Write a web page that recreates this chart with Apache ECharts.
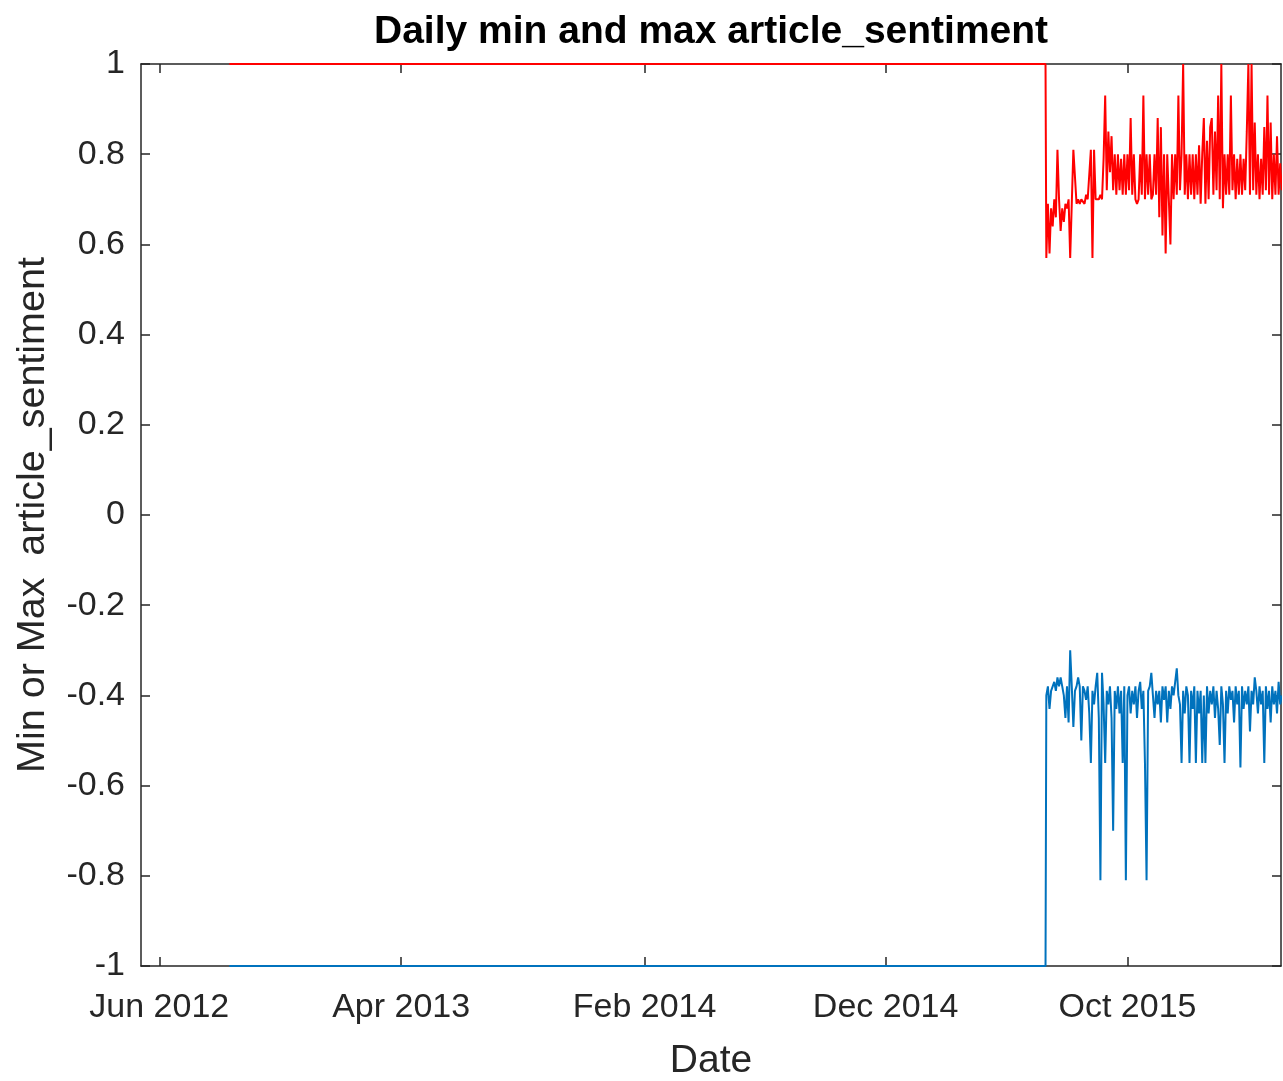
<!DOCTYPE html>
<html>
<head>
<meta charset="utf-8">
<script src="https://cdn.jsdelivr.net/npm/echarts@6/dist/echarts.min.js"></script>
<style>html,body{margin:0;padding:0;background:#fff}#c{width:1283px;height:1081px}</style>
</head>
<body>
<div id="c"></div>
<script>
// ---- data ----
const titleText = 'Daily min and max article_sentiment';
const xName = 'Date';
const yName = 'Min or Max  article_sentiment';
const xTickDates = ['2012-06-01', '2013-04-01', '2014-02-01', '2014-12-01', '2015-10-01'];
const xTickLabels = ['Jun 2012', 'Apr 2013', 'Feb 2014', 'Dec 2014', 'Oct 2015'];
const xRange = ['2012-05-09', '2016-04-11'];
// flat period (constant values) start and end dates
const flatDates = ['2012-08-28', '2015-06-20'];
const flatMax = [1, 1];
const flatMin = [-1, -1];
// noisy period: readings every 2 days starting from this date
const noisyStart = '2015-06-21';
const noisyStepDays = 2;
const maxValues = [
 0.57,0.69,0.58,0.68,0.64,0.70,0.66,0.81,0.70,0.63,
 0.68,0.65,0.69,0.68,0.70,0.57,0.69,0.81,0.81,0.69,
 0.70,0.69,0.70,0.70,0.69,0.71,0.70,0.70,0.81,0.57,
 0.81,0.70,0.70,0.70,0.71,0.70,0.79,0.93,0.72,0.85,
 0.76,0.84,0.72,0.80,0.71,0.80,0.72,0.79,0.71,0.80,
 0.71,0.80,0.72,0.88,0.71,0.80,0.70,0.69,0.70,0.80,
 0.71,0.93,0.70,0.80,0.71,0.80,0.70,0.71,0.80,0.71,
 0.88,0.66,0.86,0.62,0.80,0.58,0.80,0.70,0.60,0.80,
 0.70,0.80,0.71,0.93,0.72,0.80,1.00,0.71,0.80,0.70,
 0.80,0.71,0.80,0.70,0.80,0.71,0.82,0.69,0.80,0.88,
 0.69,0.83,0.70,0.86,0.88,0.71,0.85,0.72,0.93,0.70,
 1.00,0.68,0.80,0.71,0.80,0.71,0.93,0.72,0.80,0.70,
 0.79,0.71,0.80,0.71,0.79,0.72,0.85,1.00,0.71,1.00,
 0.72,0.87,0.71,0.80,0.70,0.79,0.71,0.86,0.72,0.93,
 0.71,0.87,0.70,0.80,0.71,0.84,0.71,0.78,0.72
];
const minValues = [
 -0.40,-0.38,-0.43,-0.39,-0.38,-0.37,-0.39,-0.36,-0.38,-0.36,
 -0.38,-0.40,-0.45,-0.38,-0.46,-0.30,-0.38,-0.47,-0.39,-0.38,
 -0.36,-0.38,-0.50,-0.38,-0.39,-0.41,-0.38,-0.44,-0.55,-0.39,
 -0.42,-0.38,-0.35,-0.45,-0.81,-0.35,-0.42,-0.55,-0.39,-0.42,
 -0.38,-0.45,-0.70,-0.39,-0.43,-0.38,-0.44,-0.39,-0.55,-0.38,
 -0.81,-0.40,-0.38,-0.44,-0.39,-0.42,-0.38,-0.45,-0.39,-0.37,
 -0.43,-0.39,-0.55,-0.81,-0.39,-0.38,-0.35,-0.40,-0.45,-0.39,
 -0.42,-0.39,-0.46,-0.38,-0.41,-0.38,-0.46,-0.39,-0.43,-0.38,
 -0.40,-0.37,-0.34,-0.40,-0.42,-0.55,-0.39,-0.44,-0.38,-0.40,
 -0.55,-0.39,-0.43,-0.38,-0.55,-0.39,-0.44,-0.39,-0.55,-0.40,
 -0.55,-0.38,-0.44,-0.39,-0.42,-0.38,-0.45,-0.39,-0.43,-0.51,
 -0.38,-0.42,-0.55,-0.39,-0.44,-0.38,-0.41,-0.39,-0.46,-0.38,
 -0.42,-0.39,-0.56,-0.38,-0.43,-0.39,-0.42,-0.38,-0.48,-0.39,
 -0.42,-0.36,-0.39,-0.44,-0.38,-0.42,-0.39,-0.55,-0.38,-0.43,
 -0.39,-0.46,-0.38,-0.42,-0.39,-0.44,-0.37,-0.42,-0.40
];
const yTicks = { min: -1, max: 1, interval: 0.2 };

// ---- build ----
const DAY = 86400000;
const ts = s => { const p = s.split('-').map(Number); return Date.UTC(p[0], p[1] - 1, p[2]); };
const noisyT0 = ts(noisyStart);
function buildSeries(flatVals, noisyVals) {
  const out = flatDates.map((d, i) => [ts(d), flatVals[i]]);
  noisyVals.forEach((v, i) => out.push([noisyT0 + i * noisyStepDays * DAY, v]));
  return out;
}
const tickTs = xTickDates.map(ts);
const labelFor = v => { const i = tickTs.indexOf(v); return i >= 0 ? xTickLabels[i] : ''; };

const FONT = "'Liberation Sans', Arial, Helvetica, sans-serif";
const AX = '#262626';

const chart = echarts.init(document.getElementById('c'), null, { renderer: 'canvas' });
chart.setOption({
  animation: false,
  backgroundColor: '#ffffff',
  title: {
    text: titleText, left: 369, top: 8,
    textStyle: { fontFamily: FONT, fontSize: 39, fontWeight: 'bold', color: '#000' }
  },
  grid: { left: 141, right: 2, top: 64, bottom: 115, containLabel: false, outerBoundsMode: 'none' },
  xAxis: [{
    type: 'value', min: ts(xRange[0]), max: ts(xRange[1]),
    name: xName, nameLocation: 'middle', nameGap: 76,
    nameTextStyle: { fontFamily: FONT, fontSize: 39, color: AX },
    axisLine: { show: true, onZero: false, lineStyle: { color: AX, width: 1.5 } },
    axisTick: { show: true, inside: true, length: 9, customValues: tickTs, lineStyle: { color: AX, width: 1.5 } },
    axisLabel: { customValues: tickTs, formatter: labelFor, fontFamily: FONT, fontSize: 34, color: AX, margin: 25 },
    splitLine: { show: false }
  }, {
    type: 'value', position: 'top', min: ts(xRange[0]), max: ts(xRange[1]),
    axisLine: { show: true, onZero: false, lineStyle: { color: AX, width: 1.5 } },
    axisTick: { show: true, inside: true, length: 9, customValues: tickTs, lineStyle: { color: AX, width: 1.5 } },
    axisLabel: { show: false }, splitLine: { show: false }
  }],
  yAxis: [{
    type: 'value', min: yTicks.min, max: yTicks.max, interval: yTicks.interval,
    name: yName, nameLocation: 'middle', nameGap: 88, nameRotate: 90,
    nameTextStyle: { fontFamily: FONT, fontSize: 39.5, color: AX },
    axisLine: { show: true, onZero: false, lineStyle: { color: AX, width: 1.5 } },
    axisTick: { show: true, inside: true, length: 9, lineStyle: { color: AX, width: 1.5 } },
    axisLabel: { fontFamily: FONT, fontSize: 34, color: AX, margin: 16, padding: [14, 0, 0, 0],
      formatter: v => String(Math.round(v * 10) / 10) },
    splitLine: { show: false }
  }, {
    type: 'value', position: 'right', min: yTicks.min, max: yTicks.max, interval: yTicks.interval,
    axisLine: { show: true, onZero: false, lineStyle: { color: AX, width: 1.5 } },
    axisTick: { show: true, inside: true, length: 9, lineStyle: { color: AX, width: 1.5 } },
    axisLabel: { show: false }, splitLine: { show: false }
  }],
  series: [{
    name: 'max', type: 'line', xAxisIndex: 0, yAxisIndex: 0,
    data: buildSeries(flatMax, maxValues), showSymbol: false, symbol: 'none',
    lineStyle: { color: '#ff0000', width: 2 }, z: 3
  }, {
    name: 'min', type: 'line', xAxisIndex: 0, yAxisIndex: 0,
    data: buildSeries(flatMin, minValues), showSymbol: false, symbol: 'none',
    lineStyle: { color: '#0072bd', width: 2 }, z: 3
  }]
});
</script>
</body>
</html>
